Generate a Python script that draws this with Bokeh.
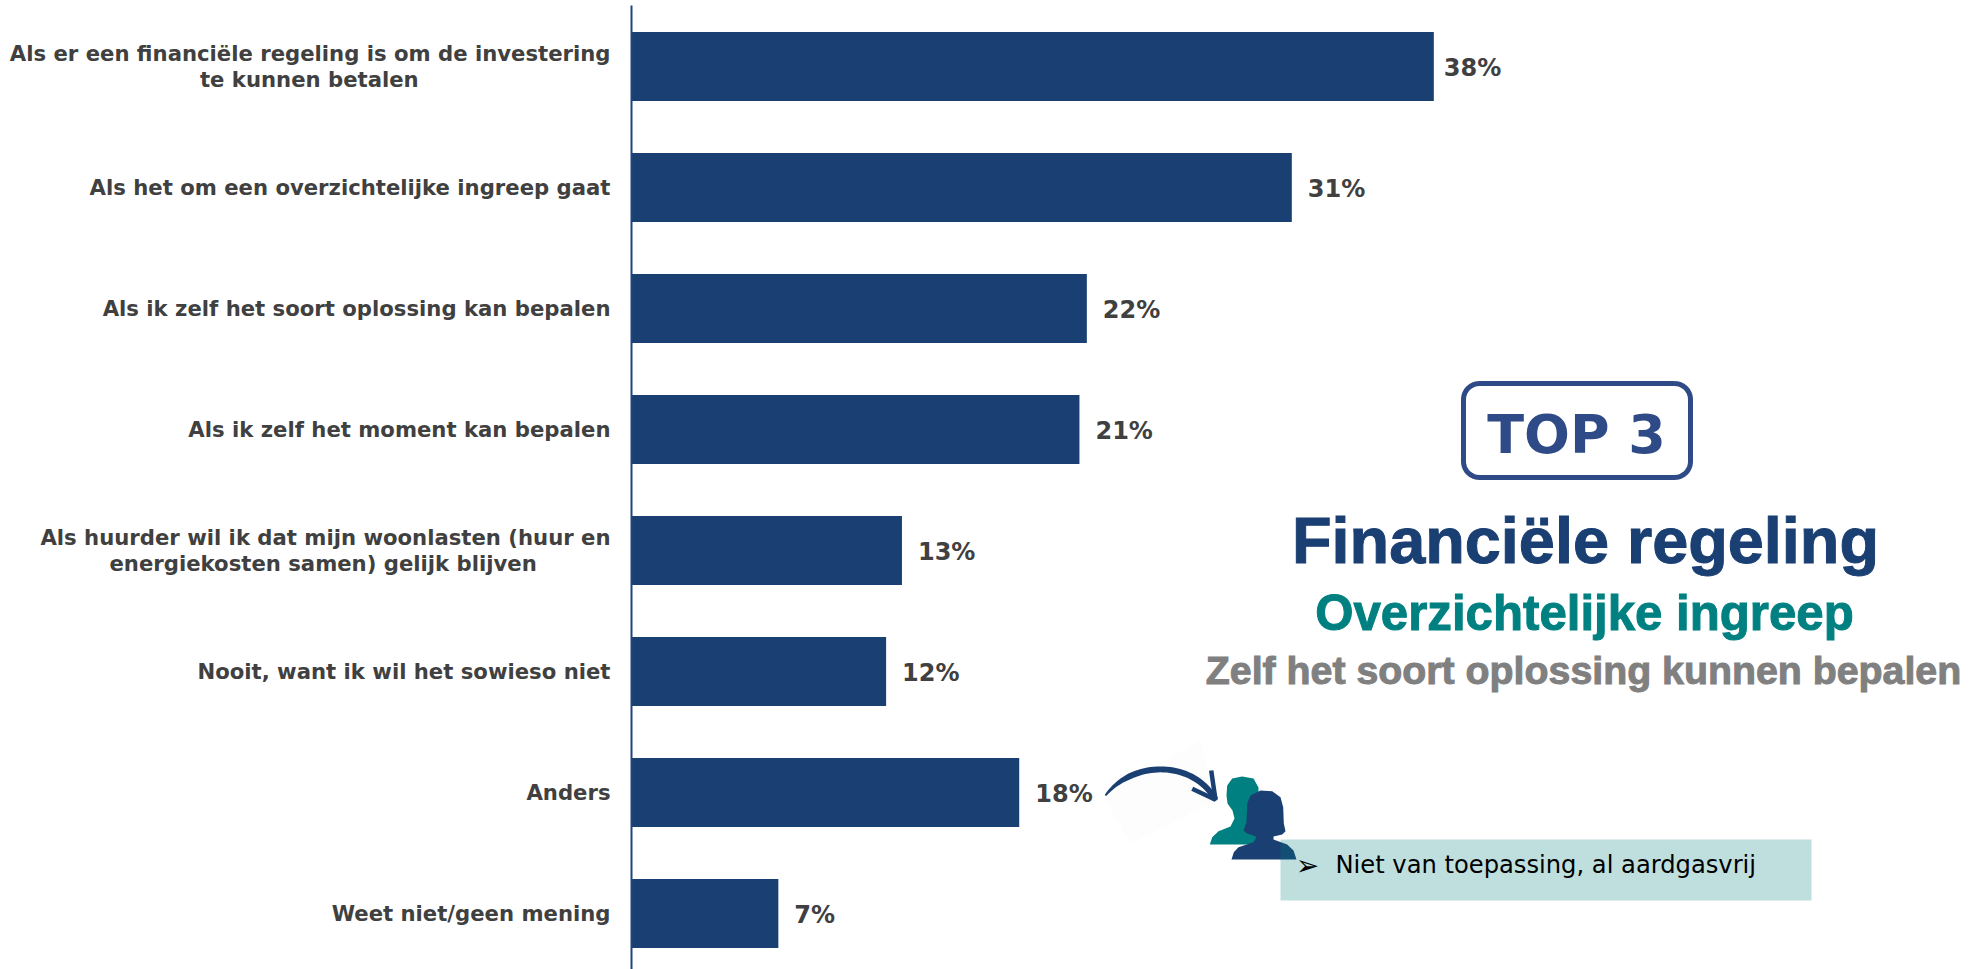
from bokeh.plotting import figure
from bokeh.models import Range1d, FixedTicker
from bokeh.core.properties import value
from bokeh.embed import file_html
from bokeh.resources import INLINE
import math

categories = ["Als er een financiële regeling is om de investering\nte kunnen betalen",
              "Als het om een overzichtelijke ingreep gaat",
              "Als ik zelf het soort oplossing kan bepalen",
              "Als ik zelf het moment kan bepalen",
              "Als huurder wil ik dat mijn woonlasten (huur en\nenergiekosten samen) gelijk blijven",
              "Nooit, want ik wil het sowieso niet",
              "Anders",
              "Weet niet/geen mening"]
second_line_pad = {0: 26, 4: 10}
values = [37.97, 31.25, 21.55, 21.2, 12.8, 12.05, 18.35, 6.95]
labels = ["38%", "31%", "22%", "21%", "13%", "12%", "18%", "7%"]
label_gap = [10, 16, 16, 16, 16, 16, 16, 16]

W, H = 1979, 969
AX = 631
PPU = 21.13
NAVY, TEAL, GREY, TXT = "#1A3F72", "#008080", "#808080", "#404040"

p = figure(width=W, height=H, output_backend="svg", toolbar_location=None,
           x_range=Range1d(0, (W - AX) / PPU), y_range=Range1d((H - 66) / 121, (0 - 66) / 121),
           x_axis_location=None, y_axis_location="left",
           min_border_left=AX, min_border_right=0, min_border_top=0, min_border_bottom=0,
           outline_line_color=None, background_fill_color="white")
p.grid.visible = False
p.extra_x_ranges["px"] = Range1d(AX, W)
p.extra_y_ranges["px"] = Range1d(H, 0)
PX = dict(x_range_name="px", y_range_name="px")

ticks, overrides = [], {}
for i, c in enumerate(categories):
    parts = c.split("\n")
    if len(parts) == 1:
        ticks.append(i)
        overrides[i] = c
    else:
        a, b_ = i - 0.107, i + 0.107
        ticks += [a, b_]
        overrides[a] = parts[0]
        overrides[b_] = parts[1] + "\u00a0" * second_line_pad[i]

ax = p.yaxis[0]
ax.ticker = FixedTicker(ticks=ticks)
ax.major_label_overrides = overrides
ax.major_tick_line_color = None
ax.major_tick_out = 0
ax.major_tick_in = 0
ax.minor_tick_line_color = None
ax.axis_line_color = "#1F4480"
ax.axis_line_width = 2
ax.bounds = ((5 - 66) / 121, (H - 66) / 121)
ax.major_label_text_font = "DejaVu Sans"
ax.major_label_text_font_style = "bold"
ax.major_label_text_font_size = "21.2px"
ax.major_label_text_color = TXT
ax.major_label_standoff = 21

ys = list(range(len(categories)))
p.hbar(y=ys, left=0, right=values, height=0.572, fill_color=NAVY, line_color=None)
p.text(x=values, y=ys, text=labels, x_offset=label_gap, y_offset=1, text_baseline="middle", text_align="left",
       text_font=value("DejaVu Sans"), text_font_style="bold", text_font_size="24px", text_color=TXT)

def rrect(x0, y0, x1, y1, r):
    xs, yy = [], []
    for cx, cy, a0 in [(x1 - r, y0 + r, -90), (x1 - r, y1 - r, 0), (x0 + r, y1 - r, 90), (x0 + r, y0 + r, 180)]:
        for k in range(0, 13):
            a = math.radians(a0 + k * 7.5)
            xs.append(cx + r * math.cos(a)); yy.append(cy + r * math.sin(a))
    return xs + xs[:1], yy + yy[:1]
fx, fy = rrect(1463, 383, 1690, 477, 16)
p.line(fx, fy, line_color="#2E4A87", line_width=5, **PX)

def bigtext(x, y, txt, size, color, font="Liberation Sans", outline=False, align="center", style="bold"):
    g = p.text(x=[x], y=[y], text=[txt], text_align=align, text_baseline="middle",
               text_font=value(font), text_font_style=style, text_font_size=size, text_color=color, **PX)
    if outline:
        g.glyph.text_outline_color = color
    return g

bigtext(1576, 434, "TOP 3", "54px", "#2E4A87", font="DejaVu Sans")
bigtext(1585, 539.5, "Financiële regeling", "64.8px", NAVY, outline=True)
bigtext(1584, 612, "Overzichtelijke ingreep", "49.2px", TEAL, outline=True)
bigtext(1583, 669.5, "Zelf het soort oplossing kunnen bepalen", "39.3px", GREY, outline=True)

# faint backdrop of the arrow picture
p.patch([1200, 1215, 1130, 1103], [740, 800, 843, 795], fill_color="#FDFDFD", line_color=None, **PX)

# curved arrow, tapered body
t = [i / 40 for i in range(41)]
b = [(1105, 795), (1130, 762), (1190, 757), (1215, 799)]
cx_ = [(1 - s)**3 * b[0][0] + 3 * (1 - s)**2 * s * b[1][0] + 3 * (1 - s) * s**2 * b[2][0] + s**3 * b[3][0] for s in t]
cy_ = [(1 - s)**3 * b[0][1] + 3 * (1 - s)**2 * s * b[1][1] + 3 * (1 - s) * s**2 * b[2][1] + s**3 * b[3][1] for s in t]
dx_ = [3 * (1 - s)**2 * (b[1][0] - b[0][0]) + 6 * (1 - s) * s * (b[2][0] - b[1][0]) + 3 * s**2 * (b[3][0] - b[2][0]) for s in t]
dy_ = [3 * (1 - s)**2 * (b[1][1] - b[0][1]) + 6 * (1 - s) * s * (b[2][1] - b[1][1]) + 3 * s**2 * (b[3][1] - b[2][1]) for s in t]
hw = [1.0 + 2.0 * min(1, s * 4) for s in t]
up_x, up_y, dn_x, dn_y = [], [], [], []
for x, y, dx, dy, w in zip(cx_, cy_, dx_, dy_, hw):
    n = math.hypot(dx, dy)
    up_x.append(x + w * dy / n); up_y.append(y - w * dx / n)
    dn_x.append(x - w * dy / n); dn_y.append(y + w * dx / n)
p.patch(up_x + dn_x[::-1], up_y + dn_y[::-1], fill_color=NAVY, line_color=None, **PX)
p.line([1210.7, 1215, 1191.7], [770, 799.3, 788.3], line_color=NAVY, line_width=4.5, **PX)

# people
teal_x = [1209.3, 1211.7, 1218, 1230, 1234, 1232, 1227, 1226, 1226.7, 1231.7, 1241.7, 1253, 1258, 1258, 1257]
teal_y = [844, 836.7, 830.7, 826, 818, 810, 803, 795, 785, 778, 776, 778, 787, 820, 844]
p.patch(teal_x, teal_y, fill_color=TEAL, line_color=None, **PX)
nx = [1231, 1233.3, 1238, 1253, 1256, 1253, 1246.7, 1243, 1246, 1246.7, 1250, 1260, 1271.7, 1280, 1282.7, 1283.3, 1285, 1281.7, 1273, 1273, 1286.7, 1293, 1296]
ny = [859, 851.7, 846.7, 841.7, 836.7, 835, 833, 830, 821.7, 803, 795, 790, 790.7, 796.7, 806.7, 823, 830.7, 834, 836, 839, 844, 850, 859]
p.patch(nx, ny, fill_color=NAVY, line_color=None, **PX)

# note box
bx, by = [1280, 1811, 1811, 1280], [839, 839, 900, 900]
p.patch(bx, by, fill_color=TEAL, fill_alpha=0.25, line_color=None, **PX)
bigtext(1307, 865, "➢", "28px", "black", font="DejaVu Sans", style="normal")
bigtext(1335, 864, "Niet van toepassing, al aardgasvrij", "24.2px", "black", font="DejaVu Sans", style="normal", align="left")

open("out.html", "w").write(file_html(p, INLINE))
